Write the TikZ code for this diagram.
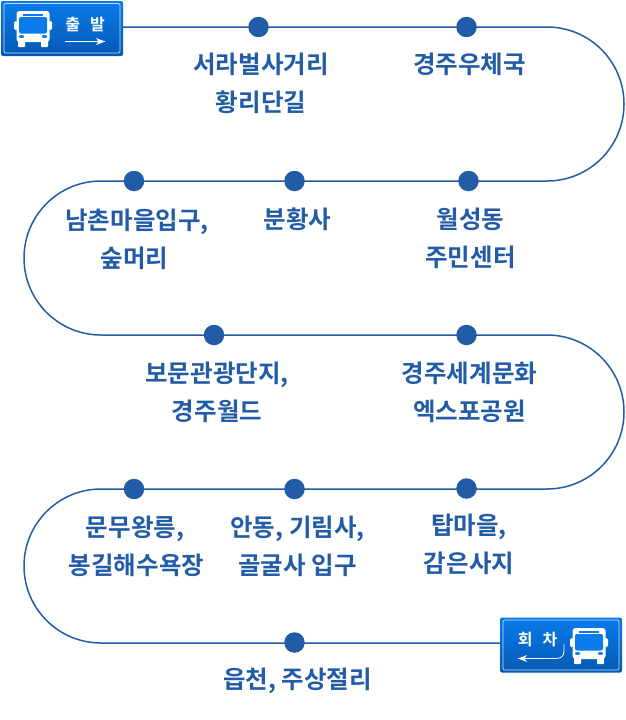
\documentclass[tikz,border=0pt]{standalone}
\usepackage{fontspec}
\setmainfont{Noto Sans CJK KR}[BoldFont={* Bold}]
\newfontfamily\krbold{Noto Sans CJK KR Bold}
\definecolor{routeblue}{HTML}{235CA6}
\definecolor{signtop}{HTML}{0A7BEA}
\definecolor{signbot}{HTML}{0459B4}
\tikzset{
  x=1pt,y=-1pt,
  route/.style={draw=routeblue,line width=1.5pt},
  stop/.style={circle,fill=routeblue,minimum size=20.5pt,inner sep=0pt},
  stoplabel/.style={text=routeblue,align=center,inner sep=0pt,font=\krbold\fontsize{24.5}{38}\selectfont},
  signbox/.style={rectangle,rounded corners=2pt,minimum width=122pt,minimum height=55pt,inner sep=0pt,top color=signtop,bottom color=signbot,draw=none},
  signframe/.style={draw=white!75!signtop,line width=0.7pt,rounded corners=2pt},
  signtext/.style={text=white,inner sep=0pt,font=\krbold\fontsize{16}{18}\selectfont},
  signarrow/.style={draw=white,line width=0.8pt},
  bus/.pic={
    \fill[white,rounded corners=1.5pt] (-19,-8) rectangle (-15.5,1);
    \fill[white,rounded corners=1.5pt] (19,-8) rectangle (15.5,1);
    \fill[white,rounded corners=3pt] (-16.5,-18) rectangle (16.5,13);
    \fill[white,rounded corners=1pt] (-15,10) rectangle (-8,18);
    \fill[white,rounded corners=1pt] (15,10) rectangle (8,18);
    \fill[signtop,rounded corners=2pt] (-14,-12) rectangle (14,4.5);
    \fill[signtop] (-10,-15.5) rectangle (10,-13.5);
    \fill[signtop] (-11.5,7.5) ellipse (2.7 and 1.5);
    \fill[signtop] (11.5,7.5) ellipse (2.7 and 1.5);
  }
}
\begin{document}
\begin{tikzpicture}
\useasboundingbox (0,0) rectangle (626,720);
% signs
\node[signbox] (start) at (62,28.5) {};
\node[signbox] (finish) at (561,645) {};
% route
\coordinate (a1) at (547,27);
\coordinate (b1) at (101,181);
\coordinate (c1) at (547,335);
\coordinate (d1) at (101,489);
\coordinate (d2) at (101,643);
\draw[route] (start.east |- a1) -- (a1) arc[start angle=90,end angle=-90,radius=77pt] -- (b1)
  arc[start angle=90,end angle=270,radius=77pt] -- (c1)
  arc[start angle=90,end angle=-90,radius=77pt] -- (d1)
  arc[start angle=90,end angle=270,radius=77pt] -- (finish.west |- d2);
% stops
\node[stop] (s1) at (258.5,27) {};
\node[stop] (s2) at (466.5,27) {};
\node[stop] (s3) at (468.5,181) {};
\node[stop] (s4) at (294.5,181) {};
\node[stop] (s5) at (134,181) {};
\node[stop] (s6) at (214,335) {};
\node[stop] (s7) at (466.5,335) {};
\node[stop] (s8) at (466.5,488.5) {};
\node[stop] (s9) at (294.5,489) {};
\node[stop] (s10) at (134,489) {};
\node[stop] (s11) at (294.5,642.5) {};
% labels
\node[stoplabel] (l1) at (261,83.5) {서라벌사거리\\황리단길};
\node[stoplabel] (l2) at (469.5,64.5) {경주우체국};
\node[stoplabel] (l3) at (470.5,238) {월성동\\주민센터};
\node[stoplabel] (l4) at (297.5,219.5) {분황사};
\node[stoplabel] (l5) at (137,239) {남촌마을입구,\\숲머리\hspace{5pt}\null};
\node[stoplabel] (l6) at (217,392.5) {보문관광단지,\\경주월드};
\node[stoplabel] (l7) at (469.5,392.5) {경주세계문화\\엑스포공원};
\node[stoplabel] (l8) at (469,544.5) {탑마을,\\감은사지};
\node[stoplabel] (l9) at (297.5,546.5) {안동, 기림사,\\골굴사 입구};
\node[stoplabel] (l10) at (136.5,546.5) {문무왕릉,\hspace{3pt}\null\\봉길해수욕장};
\node[stoplabel] (l11) at (297.5,680.5) {읍천, 주상절리};
% start sign contents
\draw[signframe] (4,3.5) rectangle (120,53);
\pic at (33,29) {bus};
\node[signtext] (t1) at (85,24.5) {출\hspace{10pt}발};
\coordinate (ar1) at (65,41.5);
\coordinate (ar2) at (105,41.5);
\draw[signarrow] (ar1) -- (ar2);
\fill[white] (ar2) -- ++(-9,-3.5) -- ++(2.5,3.5) -- ++(-2.5,3.5) -- cycle;
% finish sign contents
\draw[signframe] (503,620) rectangle (619,670);
\pic at (589,646) {bus};
\node[signtext] (t2) at (537.5,640) {회\hspace{10pt}차};
\coordinate (br1) at (564,644);
\coordinate (br2) at (518,658.5);
\draw[signarrow] (br1) -- (564,651) .. controls (564,656) and (561,658.5) .. (556,658.5) -- (br2);
\fill[white] (br2) -- ++(9,-3.5) -- ++(-2.5,3.5) -- ++(2.5,3.5) -- cycle;
\end{tikzpicture}
\end{document}
